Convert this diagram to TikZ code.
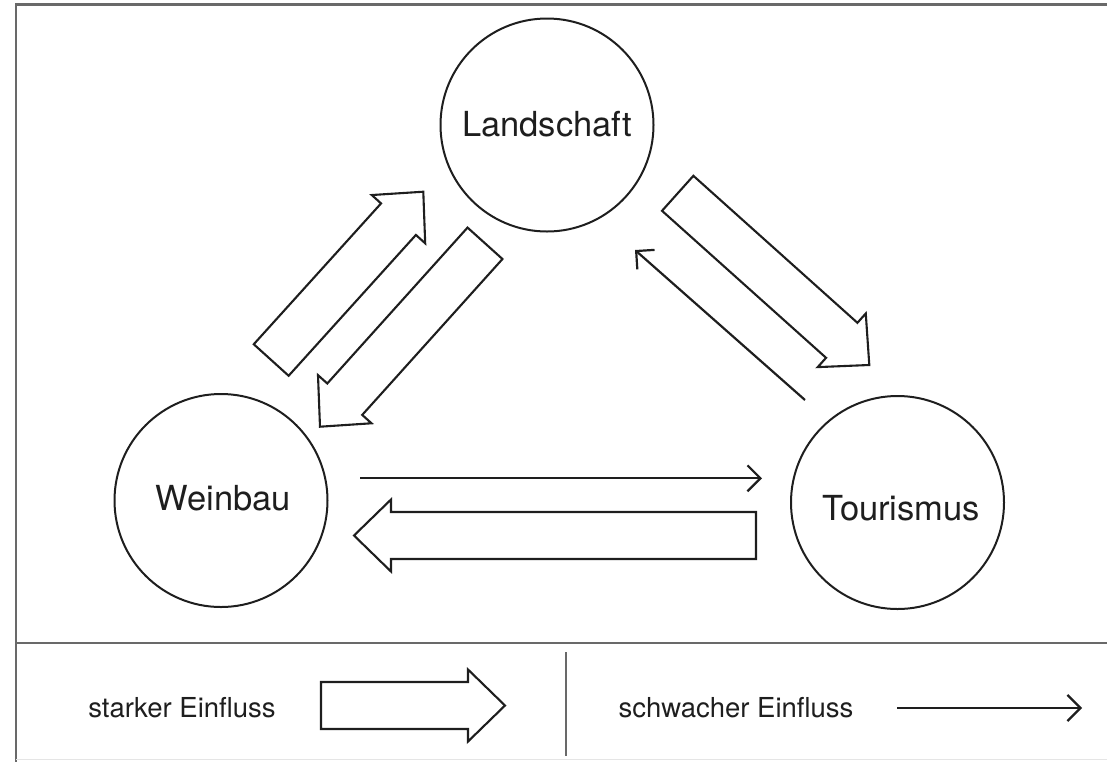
\documentclass[tikz,border=0pt]{standalone}
\usepackage{fontspec}
\setmainfont{TeX Gyre Heros}
\usetikzlibrary{calc,arrows.meta}
\definecolor{framegray}{RGB}{105,105,105}
\definecolor{inkgray}{RGB}{30,30,30}
\tikzset{
  framelinestyle/.style={draw=framegray,line width=2.8pt},
  circ/.style={circle,draw=inkgray,line width=2pt,minimum size=213pt,inner sep=0pt},
  lbl/.style={font=\fontsize{34.5}{40}\selectfont,text=inkgray,inner sep=0pt,anchor=base},
  legendlbl/.style={font=\fontsize{27.5}{32}\selectfont,text=inkgray,inner sep=0pt,anchor=base},
  strongarrow/.style={draw=inkgray,line width=2.1pt,line join=miter},
  thinarrow/.style={draw=inkgray,line width=2.2pt,-{Straight Barb[length=13pt,width=26pt,line width=2.2pt]}}
}
\newcommand\bigarrow[2]{%
  \draw[strongarrow] let \p1=(#1), \p2=(#2),
      \n1={atan2(\y2-\y1,\x2-\x1)}, \n2={veclen(\x2-\x1,\y2-\y1)} in
    [shift={(\p1)}, rotate=\n1]
    (0pt,-23.5pt) -- (\n2*1pt-37pt,-23.5pt) -- (\n2*1pt-37pt,-36pt) -- (\n2*1pt,0pt)
    -- (\n2*1pt-37pt,36pt) -- (\n2*1pt-37pt,23.5pt) -- (0pt,23.5pt) -- cycle;}
\begin{document}
\begin{tikzpicture}[x=1pt,y=-1pt]
\useasboundingbox (0,0) rectangle (1107,761);
% frame
\coordinate (f1) at (16,4.5);
\coordinate (f2) at (1107,4.5);
\coordinate (f3) at (16,761);
\coordinate (h1) at (16,643);
\coordinate (h2) at (1107,643);
\coordinate (d1) at (566,652);
\coordinate (d2) at (566,756);
\coordinate (b1) at (16,759.5);
\coordinate (b2) at (1107,759.5);
\draw[framelinestyle,line cap=rect] (f3) -- (f1) -- (f2);
\draw[draw=framegray,line width=2.4pt] (h1) -- (h2);
\draw[draw=framegray,line width=2pt] (d1) -- (d2);
\draw[draw=gray!20,line width=1pt] (b1) -- (b2);
% circles
\node[circ] (L) at (547,125) {};
\node[circ] (W) at (221,500.5) {};
\node[circ] (T) at (897.5,502.5) {};
\node[lbl] (tL) at (547,136) {Landschaft};
\node[lbl] (tW) at (223.5,510) {Weinbau};
\node[lbl] (tT) at (901,520) {Tourismus};
% strong arrows
\coordinate (wl-a) at (271.2,360);   \coordinate (wl-b) at (423.3,191.7);
\coordinate (lw-a) at (485,243.3);   \coordinate (lw-b) at (320,426.7);
\coordinate (lt-a) at (677.7,193.3); \coordinate (lt-b) at (869.3,365);
\coordinate (tw-a) at (756,535.5);   \coordinate (tw-b) at (354,535.5);
\bigarrow{wl-a}{wl-b}
\bigarrow{lw-a}{lw-b}
\bigarrow{lt-a}{lt-b}
\bigarrow{tw-a}{tw-b}
% weak arrows
\coordinate (wt-a) at (360,478.3); \coordinate (wt-b) at (762,478.3);
\coordinate (tl-a) at (805,400);   \coordinate (tl-b) at (635,250);
\draw[thinarrow] (wt-a) -- (wt-b);
\draw[thinarrow] (tl-a) -- (tl-b);
% legend
\node[legendlbl] (ls) at (182,717) {starker Einfluss};
\node[legendlbl] (lw) at (736,717) {schwacher Einfluss};
\coordinate (ls-a) at (321,705.5); \coordinate (ls-b) at (505,705.5);
\bigarrow{ls-a}{ls-b}
\coordinate (lw-a2) at (897,708); \coordinate (lw-b2) at (1082,708);
\draw[thinarrow] (lw-a2) -- (lw-b2);
\end{tikzpicture}
\end{document}
